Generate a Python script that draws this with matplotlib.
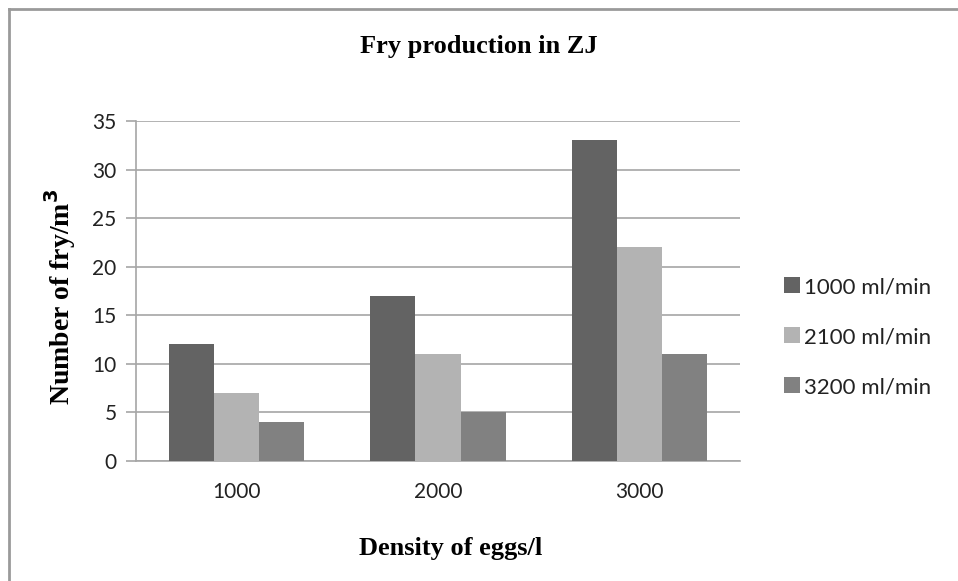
import numpy as np
import matplotlib
matplotlib.use("Agg")
import matplotlib.pyplot as plt

# data
densities = ["1000", "2000", "3000"]
flow_labels = ["1000 ml/min", "2100 ml/min", "3200 ml/min"]
flow_1000 = [12, 17, 33]
flow_2100 = [7, 11, 22]
flow_3200 = [4, 5, 11]
bar_colors = ["#636363", "#b3b3b3", "#818181"]
y_ticks = [0, 5, 10, 15, 20, 25, 30, 35]

sans = "Lato"
serif = "Liberation Serif"

fig = plt.figure(figsize=(9.58, 5.81), dpi=100)
fig.patch.set_facecolor("white")

# frame of the original chart object (only left and top edges show)
fig.add_artist(plt.Line2D([9 / 958, 9 / 958], [0, 1 - 9 / 581], transform=fig.transFigure,
                          color="#9a9a9a", lw=2))
fig.add_artist(plt.Line2D([9 / 958, 1], [1 - 9 / 581, 1 - 9 / 581], transform=fig.transFigure,
                          color="#9a9a9a", lw=2))

ax = fig.add_axes([136 / 958, 120 / 581, 604 / 958, 340 / 581])

x = np.arange(len(densities))
w = 0.224
series = [flow_1000, flow_2100, flow_3200]
for i, (vals, lab, col) in enumerate(zip(series, flow_labels, bar_colors)):
    ax.bar(x + (i - 1) * w, vals, width=w, color=col, label=lab, zorder=3)

ax.set_xlim(-0.5, len(densities) - 0.5)
ax.set_ylim(0, 35)
ax.set_yticks(y_ticks)
ax.set_xticks(x)
ax.set_xticklabels(densities)
ax.yaxis.grid(True, color="#a6a6a6", lw=1.2, zorder=0)
ax.set_axisbelow(True)

for s in ["top", "right"]:
    ax.spines[s].set_visible(False)
ax.spines["left"].set_color("#a6a6a6")
ax.spines["bottom"].set_color("#a6a6a6")
ax.spines["left"].set_linewidth(1.2)
ax.spines["bottom"].set_linewidth(1.2)

ax.tick_params(axis="y", length=7, width=1.2, color="#a6a6a6", pad=7,
               labelsize=15, labelcolor="#222222")
ax.tick_params(axis="x", length=0, pad=15, labelsize=15, labelcolor="#222222")
for t in ax.get_xticklabels() + ax.get_yticklabels():
    t.set_fontfamily(sans)

# title
fig.text(479 / 958, 1 - 47 / 581, "Fry production in ZJ", ha="center", va="center",
         fontfamily=serif, fontweight="bold", fontsize=19)

# y label
fig.text(60 / 958, 1 - 297 / 581, "Number of fry/m$^\\mathbf{3}$", ha="center", va="center",
         rotation=90, fontfamily=serif, fontweight="bold", fontsize=20)

# x label
fig.text(451 / 958, 1 - 548 / 581, "Density of eggs/l", ha="center", va="center",
         fontfamily=serif, fontweight="bold", fontsize=19)

leg = fig.legend(loc="center left", bbox_to_anchor=(764 / 958, 1 - 337 / 581),
                 frameon=False, handlelength=0.7, handleheight=0.7,
                 handletextpad=0.2, labelspacing=1.35,
                 prop={"family": sans, "size": 16})
for t in leg.get_texts():
    t.set_color("#222222")

fig.savefig("out.png", dpi=100, facecolor="white")
